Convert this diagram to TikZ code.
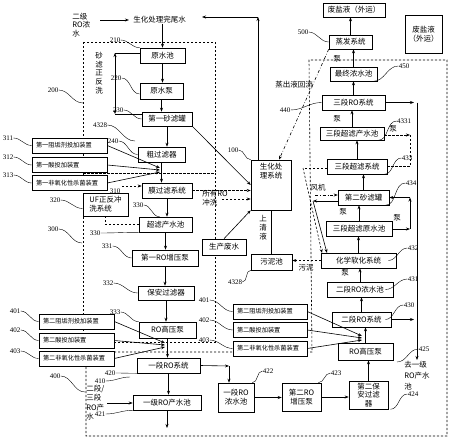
\documentclass[tikz,border=0pt]{standalone}
\usepackage{fontspec}
\setmainfont{Liberation Serif}
\newfontfamily\cjk{Noto Sans CJK SC}
\usetikzlibrary{arrows.meta}

\tikzset{
  >={Stealth[length=4pt,width=3pt]},
  box/.style 2 args={draw, fill=white, minimum width=#1pt, minimum height=#2pt,
    inner sep=0.5pt, align=center, font=\cjk\fontsize{7.5}{8.8}\selectfont},
  dose/.style={draw, fill=white, text width=67pt, minimum height=15pt,
    inner xsep=4pt, inner ysep=0.5pt, align=left, font=\cjk\fontsize{6.2}{7}\selectfont},
  num/.style={inner sep=0pt, font=\fontsize{7}{8}\selectfont},
  txt/.style={inner sep=0pt, align=center, font=\cjk\fontsize{7.5}{8.8}\selectfont},
  zone/.style={dash pattern=on 2.2pt off 1.8pt},
  leadR/.style={line width=0.4pt, out=0, in=180},
  leadL/.style={line width=0.4pt, out=180, in=0},
}

\begin{document}
\begin{tikzpicture}[x=1pt, y=-1pt, line width=0.6pt]
    \useasboundingbox (0,0) rectangle (450,439);

    %% Dashed zones 200, 300, 400
    \draw[zone] (83,42) rectangle (215,173);
    \draw[zone] (83,173) rectangle (215,342);
    \draw[zone] (86,352) -- (312,352) -- (309,60) -- (447,60) -- (447,436) -- (86,436) -- cycle;

    % Inlet
    \node[txt, anchor=west, align=left] (inlet) at (72,25) {二级\\RO浓\\水};
    \node[txt] (tail) at (159.5,20) {生化处理完尾水};
    \coordinate (inletA) at (100,20);
    \draw[->] (inletA) -- ([xshift=-4pt]tail.west);

    % Sand filtration 200
    \node[box={45}{15}] (rawpool) at (162.5,55.5) {原水池};
    \node[box={43}{16}] (rawpump) at (161.5,91) {原水泵};
    \node[box={50}{14}] (sand1) at (167,119) {第一砂滤罐};
    \node[box={47}{15}] (coarse) at (161.5,154.5) {粗过滤器};
    \node[txt] (washtxt) at (99,73) {砂\\滤\\正\\反\\洗};
    \coordinate (bwTop) at (115,53);
    \coordinate (bwBot) at (115,114);
    \draw (rawpool.west |- bwTop) -- (bwTop);
    \draw[<->] (bwTop) -- (bwBot);
    \draw (bwBot) -- (sand1.west |- bwBot);

    % Dosing before membranes
    \node[dose] (dose11) at (69.5,145.5) {第一阻垢剂投加装置};
    \node[dose] (dose12) at (69.5,165) {第一酸投加装置};
    \node[dose] (dose13) at (69.5,183) {第一非氧化性杀菌装置};
    \coordinate (mixA1) at (160,168);
    \coordinate (mixA2) at (160,170);
    \coordinate (mixA3) at (160,172);
    \draw[->] (dose11.east) -- (mixA1);
    \draw[->] (dose12.east) -- (mixA2);
    \draw[->] (dose13.east) -- (mixA3);

    % Membrane filtration 300
    \node[box={50}{15}] (membr) at (167,190.5) {膜过滤系统};
    \node[box={45}{23}, align=left] (ufwash) at (105.5,204.5) {UF正反冲\\洗系统};
    \node[box={53}{15}] (ufpool) at (165.5,224.5) {超滤产水池};
    \node[box={66}{16}] (booster1) at (165,258) {第一RO增压泵};
    \node[box={56}{14}] (safety1) at (166,293) {保安过滤器};
    \node[box={57}{16}] (hpump1) at (167.5,330) {RO高压泵};
    \draw[zone] (ufpool.west) -| (ufwash.south);
    \coordinate (uf310) at (122,186);
    \draw[zone, ->] (uf310) -- (membr.west |- uf310);

    % Dosing before first RO
    \node[dose] (dose21) at (76.5,321.5) {第二阻垢剂投加装置};
    \node[dose] (dose22) at (76.5,340.5) {第二酸投加装置};
    \node[dose] (dose23) at (76.5,358.5) {第二非氧化性杀菌装置};
    \coordinate (mixB1) at (165,343);
    \coordinate (mixB2) at (165,345);
    \coordinate (mixB3) at (165,347);
    \draw[->] (dose21.east) -- (mixB1);
    \draw[->] (dose22.east) -- (mixB2);
    \draw[->] (dose23.east) -- (mixB3);

    % First RO 400
    \node[box={63}{15}] (ro1) at (168.5,365.5) {一段RO系统};
    \node[box={68}{15}] (ro1pool) at (167,402.5) {一级RO产水池};
    \node[txt, anchor=north west, align=left, font=\cjk\fontsize{7.5}{9.3}\selectfont] (ro23) at (86,385) {二段/\\三段\\RO产\\水};
    \coordinate (ro23A) at (107,403);
    \draw[->] (ro23A) -- (ro23A -| ro1pool.west);
    \coordinate (ro1out) at (167,428);
    \draw[->] (ro1pool.south) -- (ro1out);

    % Main chain
    \foreach \a/\b in {rawpool/rawpump, rawpump/sand1, sand1/coarse, coarse/membr, membr/ufpool,
        ufpool/booster1, booster1/safety1, safety1/hpump1, hpump1/ro1, ro1/ro1pool}
      \draw[->] (\a.south) -- (\a.south |- \b.north);
    \draw[->] (tail.south -| rawpool.north) -- (rawpool.north);

    % Biological treatment 100
    \node[box={40}{50}, label={[txt, below=3pt]north:生化处\\理系统}] (bio) at (271,185) {};
    \node[box={44}{16}] (prodw) at (224,247) {生产废水};
    \node[box={41}{16}] (sludge) at (271.5,262) {污泥池};
    \node[txt] (clear) at (263,228) {上\\清\\液};
    \node[txt, anchor=west, align=left] (rowash) at (202,198.5) {所有RO\\冲洗};
    \coordinate (rowashA) at (222,199);
    \coordinate (retTop) at (258,17);
    \coordinate (retEnd) at (202,17);
    \draw[->] (sand1.south east) -- (bio.west);
    \draw[zone, ->] (membr.east) -- (membr.east -| bio.west);
    \draw[zone, ->] (rowashA) -- (rowashA -| bio.west);
    \draw[->] (prodw.north) -- (bio.south west);
    \draw (sludge.north) -- (sludge.north |- bio.south);
    \draw[->] (bio.north -| retTop) -- (retTop);
    \draw[->] (retTop) -- (retEnd);

    % Concentrate treatment (right)
    \node[box={62}{14}] (waste1) at (354,10) {废盐液（外运）};
    \node[box={37}{38}] (waste2) at (423.5,34) {废盐液\\（外运）};
    \node[box={43}{14}] (evap) at (350.5,42) {蒸发系统};
    \node[box={47}{14}] (finalp) at (353.5,74) {最终浓水池};
    \node[box={63}{15}] (ro3) at (353.5,102.5) {三段RO系统};
    \node[box={64}{13}] (uf3p) at (352,133.5) {三段超滤产水池};
    \node[box={60}{15}] (uf3) at (357,166.5) {三段超滤系统};
    \node[box={51}{15}] (sand2) at (363.5,197.5) {第二砂滤罐};
    \node[box={66}{15}] (uf3raw) at (359,228.5) {三段超滤原水池};
    \node[box={75}{15}] (soft) at (358.5,260.5) {化学软化系统};
    \node[box={66}{15}] (ro2conc) at (360,289.5) {二段RO浓水池};
    \node[box={59}{15}] (ro2) at (361.5,319.5) {二段RO系统};
    \node[box={55}{17}] (hpump2) at (365.5,351.5) {RO高压泵};
    \node[box={39}{28}] (safety2) at (368.5,395) {第二保\\安过滤\\器};
    \node[box={39}{28}] (booster2) at (301.5,397) {第二RO\\增压泵};
    \node[box={36}{29}] (ro1conc) at (236,397.5) {一段RO\\浓水池};

    \foreach \a/\b in {safety2/hpump2, hpump2/ro2, ro2/ro2conc, ro2conc/soft, soft/uf3raw,
        uf3raw/sand2, sand2/uf3, uf3/uf3p, uf3p/ro3, ro3/finalp, finalp/evap, evap/waste1}
      \draw[->] (\a.north) -- (\a.north |- \b.south);

    % Pumps
    \node[txt] (pump1) at (337,59) {泵};
    \node[txt] (pump2) at (337,119) {泵};
    \node[txt] (pump3) at (393,129) {泵};
    \node[txt] (pump4) at (343,212) {泵};
    \node[txt] (pump5) at (397,218) {泵};
    \node[txt] (pump6) at (345,273) {泵};

    % Evaporate return
    \node[txt] (steamtxt) at (294,85) {蒸出液回流};
    \draw[dash dot, ->] (evap.south west) -- ([xshift=8pt]bio.north);

    % Backwash of third UF
    \coordinate (c4331) at (410,135);
    \coordinate (c433) at (303,168);
    \coordinate (soft433) at (322,253);
    \draw[zone, ->] (uf3p.east |- c4331) -- (c4331);
    \draw[zone] (c4331) |- (uf3.east);
    \draw[zone] (uf3.west |- c433) -- (c433);
    \draw[zone, ->] (c433) -- (soft433);

    % Second sand filter
    \node[txt] (fan) at (318,188) {风机};
    \coordinate (fanA) at (315,195);
    \draw[dash dot, ->] (fanA) -- (fanA -| sand2.west);
    \coordinate (bw2) at (313,201);
    \coordinate (soft434) at (327,253);
    \draw[->] (sand2.west |- bw2) -- (bw2);
    \draw[->] (bw2) -- (soft434);
    \coordinate (loopA) at (410,229);
    \coordinate (loopB) at (410,197.5);
    \draw[->] (uf3raw.east |- loopA) -- (loopA);
    \draw[->] (loopA) -- (loopB);
    \draw[->] (loopB) -- (sand2.east);

    % Sludge
    \node[txt] (sludgetxt) at (306,268) {污泥};
    \draw[zone, ->] (soft.west) -- (soft.west -| sludge.east);

    % Permeate riser
    \coordinate (out3) at (414,102.5);
    \coordinate (riserTop) at (417,102.5);
    \coordinate (riserBot) at (417,360);
    \draw[->] (ro3.east) -- (out3);
    \draw[->] (ro2.east) -- (ro2.east -| out3);
    \draw[->] (riserTop) -- (riserBot);
    \node[txt, anchor=north west, align=left, font=\cjk\fontsize{7.5}{11}\selectfont] (toro1) at (404,361) {去一级\\RO产水\\池};

    % Second RO feed
    \coordinate (c420) at (229,366);
    \draw[->] (ro1.east) -- (c420);
    \draw[->] (c420) -- (c420 |- ro1conc.north);
    \draw[->] (ro1conc.east) -- (ro1conc.east -| booster2.west);
    \draw[->] (booster2.east) -- (booster2.east -| safety2.west);

    % Dosing before second RO
    \node[dose, text width=66pt] (dose31) at (270,311.5) {第二阻垢剂投加装置};
    \node[dose, text width=66pt] (dose32) at (270,330) {第二酸投加装置};
    \node[dose, text width=66pt] (dose33) at (270,348.5) {第二非氧化性杀菌装置};
    \coordinate (mixC1) at (362,336);
    \coordinate (mixC2) at (362,338);
    \coordinate (mixC3) at (362,340);
    \draw[->] (dose31.east) -- (mixC1);
    \draw[->] (dose32.east) -- (mixC2);
    \draw[->] (dose33.east) -- (mixC3);

    %% Reference numbers
    \coordinate (z200) at (83,103);
    \coordinate (z300) at (82,243);
    \coordinate (z400) at (85,392);
    \coordinate (z410) at (130,377);
    \coordinate (z4328) at (135,141);
    \coordinate (z425) at (397,362);
    \node[num] (n200) at (53,90) {200};
    \node[num] (n210) at (115,40) {210};
    \node[num] (n220) at (116,78) {220};
    \node[num] (n230) at (118,110) {230};
    \node[num] (n4328a) at (100,125) {4328};
    \node[num] (n240) at (113,141) {240};
    \node[num] (n311) at (8,138) {311};
    \node[num] (n312) at (8,157) {312};
    \node[num] (n313) at (8,175) {313};
    \node[num] (n310) at (115,191) {310};
    \node[num] (n320) at (55,200) {320};
    \node[num] (n300) at (53,229) {300};
    \node[num] (n330a) at (138,205) {330};
    \node[num] (n330b) at (95,233) {330};
    \node[num] (n331) at (107,246) {331};
    \node[num] (n332) at (108,283) {332};
    \node[num] (n333) at (115,312) {333};
    \node[num] (n401a) at (15,311) {401};
    \node[num] (n402a) at (15,330) {402};
    \node[num] (n403a) at (15,351) {403};
    \node[num] (n400) at (55,376) {400};
    \node[num] (n420) at (110,373) {420};
    \node[num] (n410) at (100,381) {410};
    \node[num] (n421) at (100,414) {421};
    \node[num] (n401b) at (204,300) {401};
    \node[num] (n402b) at (204,320) {402};
    \node[num] (n403b) at (204,340) {403};
    \node[num] (n100) at (233,150) {100};
    \node[num] (n4328b) at (235,282) {4328};
    \node[num] (n500) at (303,32) {500};
    \node[num] (n440) at (285,110) {440};
    \node[num] (n450) at (404,66) {450};
    \node[num] (n4331) at (404,121) {4331};
    \node[num] (n433) at (407,158) {433};
    \node[num] (n434) at (411,183) {434};
    \node[num] (n432) at (413,248) {432};
    \node[num] (n431) at (413,279) {431};
    \node[num] (n430) at (409,305) {430};
    \node[num] (n425) at (424,349) {425};
    \node[num] (n424) at (413,394) {424};
    \node[num] (n423) at (336,373) {423};
    \node[num] (n422) at (268,371) {422};

    \draw[leadR] (n200.east) to (z200);
    \draw[leadR] (n210.east) to (rawpool.north west);
    \draw[leadR] (n220.east) to ([yshift=-3pt]rawpump.west);
    \draw[leadR] (n230.east) to (sand1.west);
    \draw[leadR] (n4328a.east) to (z4328);
    \draw[leadR] (n240.east) to (coarse.west);
    \draw[leadR] (n311.east) to (dose11.west);
    \draw[leadR] (n312.east) to (dose12.west);
    \draw[leadR] (n313.east) to (dose13.west);
    \draw[leadR] (n320.east) to ([yshift=-4pt]ufwash.west);
    \draw[leadR] (n300.east) to (z300);
    \draw[leadR] (n330a.east) to ([xshift=-6pt]ufpool.north);
    \draw[leadR] (n330b.east) to (ufpool.south west);
    \draw[leadR] (n331.east) to (booster1.west);
    \draw[leadR] (n332.east) to (safety1.west);
    \draw[leadR] (n333.east) to (hpump1.north west);
    \draw[leadR] (n401a.east) to (dose21.west);
    \draw[leadR] (n402a.east) to (dose22.west);
    \draw[leadR] (n403a.east) to (dose23.west);
    \draw[leadR] (n400.east) to (z400);
    \draw[leadR] (n420.east) to (ro1.south west);
    \draw[leadR] (n410.east) to (z410);
    \draw[leadR] (n421.east) to (ro1pool.south west);
    \draw[leadR] (n401b.east) to (dose31.west);
    \draw[leadR] (n402b.east) to (dose32.west);
    \draw[leadR] (n403b.east) to (dose33.west);
    \draw[leadR] (n100.east) to (bio.north west);
    \draw[leadR] (n4328b.east) to (sludge.south west);
    \draw[leadR] (n500.east) to (evap.west);
    \draw[leadR] (n440.east) to (ro3.west);
    \draw[leadL] (n450.west) to ([xshift=-4pt]finalp.south east);
    \draw[leadL] (n4331.west) to ([xshift=-6pt]uf3p.south east);
    \draw[leadL] (n433.west) to ([xshift=-3pt]uf3.south east);
    \draw[leadL] (n434.west) to ([xshift=-4pt]sand2.south east);
    \draw[leadL] (n432.west) to ([xshift=-8pt]soft.east);
    \draw[leadL] (n431.west) to ([xshift=-8pt]ro2conc.east);
    \draw[leadL] (n430.west) to ([xshift=-6pt]ro2.east);
    \draw[leadL] (n425.west) to (z425);
    \draw[leadL] (n424.west) to ([xshift=2pt]safety2.south east);
    \draw[leadL] (n423.west) to ([xshift=-3pt]booster2.north east);
    \draw[leadL] (n422.west) to ([xshift=-2pt]ro1conc.north east);

\end{tikzpicture}
\end{document}
